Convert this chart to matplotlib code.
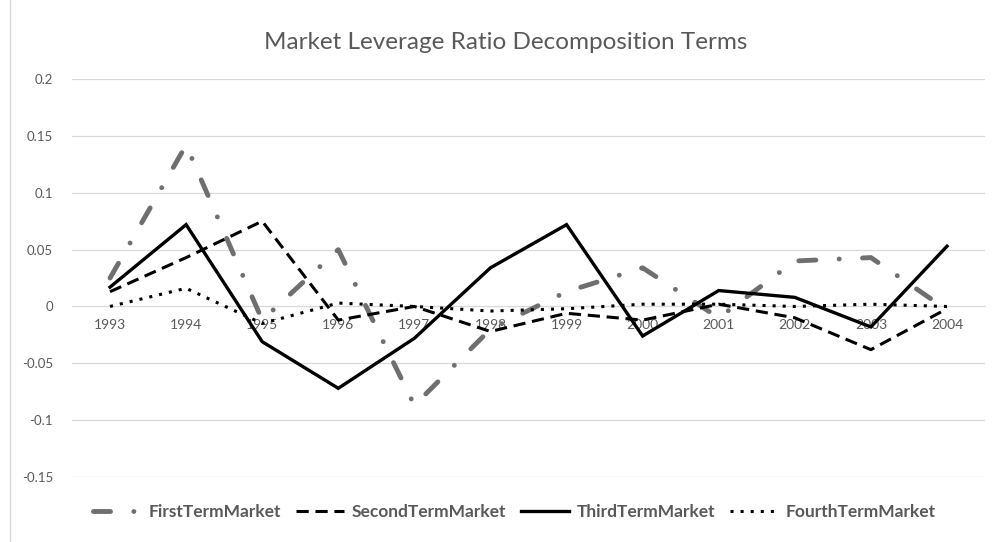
import matplotlib.pyplot as plt
from matplotlib.lines import Line2D

plt.rcParams['font.family'] = ['Lato', 'DejaVu Sans']

years = ['1993', '1994', '1995', '1996', '1997', '1998',
         '1999', '2000', '2001', '2002', '2003', '2004']

first_term = [0.025, 0.142, -0.012, 0.050, -0.087, -0.020,
              0.013, 0.034, -0.010, 0.040, 0.043, -0.003]
second_term = [0.013, 0.043, 0.075, -0.012, 0.000, -0.022,
               -0.006, -0.012, 0.002, -0.010, -0.038, -0.002]
third_term = [0.017, 0.072, -0.031, -0.072, -0.028, 0.034,
              0.072, -0.026, 0.014, 0.008, -0.018, 0.053]
fourth_term = [0.000, 0.016, -0.015, 0.003, 0.000, -0.004,
               -0.002, 0.002, 0.002, 0.000, 0.002, 0.000]

y_ticks = [-0.15, -0.1, -0.05, 0, 0.05, 0.1, 0.15, 0.2]
y_labels = ['-0.15', '-0.1', '-0.05', '0', '0.05', '0.1', '0.15', '0.2']

text_col = '#595959'
grid_col = '#d9d9d9'

fig = plt.figure(figsize=(9.97, 5.42), dpi=100)
ax = fig.add_axes([0.0722, 0.120, 0.9158, 0.734])

x = list(range(len(years)))

ax.plot(x, first_term, color='#6f6f6f', lw=3.5, dashes=(3.5, 4.8, 0.01, 4.8),
        dash_capstyle='round', label='FirstTermMarket', zorder=3)
ax.plot(x, second_term, color='black', lw=2.2, dashes=(4, 2.2),
        label='SecondTermMarket', zorder=4)
ax.plot(x, third_term, color='black', lw=2.4, solid_joinstyle='miter',
        label='ThirdTermMarket', zorder=5)
ax.plot(x, fourth_term, color='black', lw=2.2, dashes=(1, 2.3),
        label='FourthTermMarket', zorder=4)

ax.set_xlim(-0.5, len(years) - 0.5)
ax.set_ylim(-0.15, 0.2)
ax.set_yticks(y_ticks)
ax.set_yticklabels(y_labels)
ax.yaxis.grid(True, color=grid_col, lw=0.9)
ax.set_axisbelow(True)

ax.set_xticks(x)
ax.set_xticklabels(years)
ax.spines['bottom'].set_position(('data', 0))
ax.spines['bottom'].set_color(grid_col)
for s in ['top', 'right', 'left']:
    ax.spines[s].set_visible(False)
ax.tick_params(axis='both', length=0, labelsize=10, labelcolor=text_col)
ax.tick_params(axis='y', pad=13.7, labelsize=9.5)
ax.tick_params(axis='x', pad=9)

fig.text(0.507, 0.922, 'Market Leverage Ratio Decomposition Terms',
         ha='center', va='center', fontsize=17.5, color=text_col)

leg = fig.legend(loc='center', bbox_to_anchor=(0.516, 0.0554), ncol=4,
                 frameon=False, prop={'size': 12.5, 'weight': 'bold'},
                 handlelength=2.75, columnspacing=0.85, handletextpad=0.45)
for t in leg.get_texts():
    t.set_color(text_col)

fig.add_artist(Line2D([0.0105, 0.0105], [0.0, 1.0], color=grid_col, lw=1.0))

fig.savefig('out.png', dpi=100)
